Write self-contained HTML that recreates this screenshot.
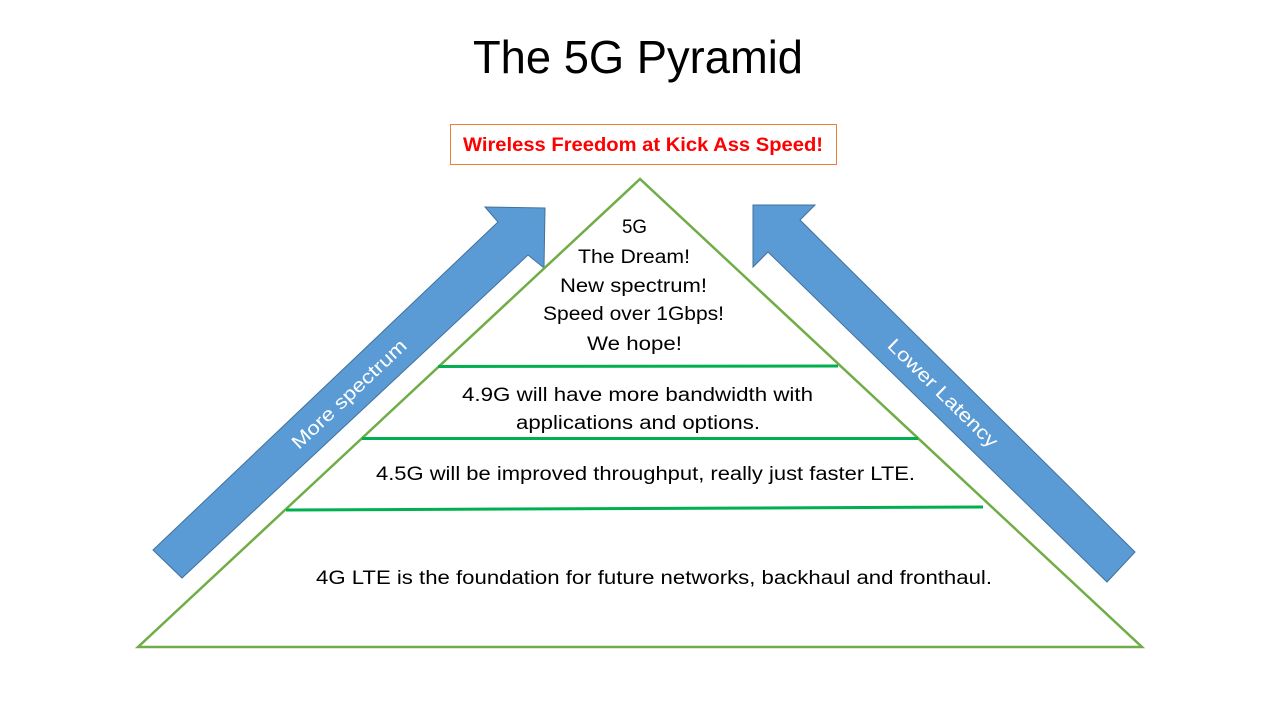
<!DOCTYPE html>
<html>
<head>
<meta charset="utf-8">
<style>
  html, body { margin: 0; padding: 0; background: #ffffff; }
  body { width: 1280px; height: 720px; overflow: hidden; }
  svg { display: block; }
  text { font-family: "Liberation Sans", Arial, sans-serif; }
</style>
</head>
<body>
<svg width="1280" height="720" viewBox="0 0 1280 720" xmlns="http://www.w3.org/2000/svg">
  <rect x="0" y="0" width="1280" height="720" fill="#ffffff"/>

  <!-- Title -->
  <text x="473" y="73" font-size="46" fill="#000" textLength="330" lengthAdjust="spacingAndGlyphs">The 5G Pyramid</text>

  <!-- Red banner -->
  <rect x="450.5" y="124.5" width="386" height="40" fill="#ffffff" stroke="#ED7D31" stroke-width="1"/>
  <text x="463" y="151" font-size="19" font-weight="bold" fill="#FF0000" textLength="360" lengthAdjust="spacingAndGlyphs">Wireless Freedom at Kick Ass Speed!</text>

  <!-- Left arrow -->
  <polygon points="545,208 485,207 498,222 153,550 182,578 528,255 544,268" fill="#5B9BD5" stroke="#41719C" stroke-width="1" stroke-linejoin="miter"/>
  <!-- Right arrow -->
  <polygon points="753,205 815,205 800,220 1135,552 1107,582 768,252 753,267" fill="#5B9BD5" stroke="#41719C" stroke-width="1" stroke-linejoin="miter"/>

  <!-- Arrow labels -->
  <g transform="translate(349,394) rotate(-43.3)">
    <text x="0" y="6.5" font-size="19" fill="#ffffff" text-anchor="middle" textLength="150" lengthAdjust="spacingAndGlyphs">More spectrum</text>
  </g>
  <g transform="translate(943,393) rotate(44.5)">
    <text x="0" y="6.5" font-size="19" fill="#ffffff" text-anchor="middle" textLength="146" lengthAdjust="spacingAndGlyphs">Lower Latency</text>
  </g>

  <!-- Pyramid -->
  <polygon points="640,179 138,647 1142,647" fill="none" stroke="#70AD47" stroke-width="2.5" stroke-linejoin="miter"/>

  <!-- Tier lines -->
  <line x1="438" y1="366.5" x2="838" y2="366" stroke="#00B050" stroke-width="3"/>
  <line x1="362" y1="438.5" x2="918" y2="438.5" stroke="#00B050" stroke-width="3"/>
  <line x1="286" y1="510" x2="983" y2="507" stroke="#00B050" stroke-width="3"/>

  <!-- 5G tier text -->
  <text x="622" y="233" font-size="19" fill="#000" textLength="25" lengthAdjust="spacingAndGlyphs">5G</text>
  <text x="578" y="263" font-size="19" fill="#000" textLength="112" lengthAdjust="spacingAndGlyphs">The Dream!</text>
  <text x="560" y="292" font-size="19" fill="#000" textLength="147" lengthAdjust="spacingAndGlyphs">New spectrum!</text>
  <text x="543" y="320" font-size="19" fill="#000" textLength="181" lengthAdjust="spacingAndGlyphs">Speed over 1Gbps!</text>
  <text x="587" y="350" font-size="19" fill="#000" textLength="95" lengthAdjust="spacingAndGlyphs">We hope!</text>

  <!-- 4.9G tier -->
  <text x="462" y="401" font-size="19" fill="#000" textLength="351" lengthAdjust="spacingAndGlyphs">4.9G will have more bandwidth with</text>
  <text x="516" y="429" font-size="19" fill="#000" textLength="244" lengthAdjust="spacingAndGlyphs">applications and options.</text>

  <!-- 4.5G tier -->
  <text x="376" y="480" font-size="19" fill="#000" textLength="539" lengthAdjust="spacingAndGlyphs">4.5G will be improved throughput, really just faster LTE.</text>

  <!-- 4G tier -->
  <text x="316" y="584" font-size="19" fill="#000" textLength="676" lengthAdjust="spacingAndGlyphs">4G LTE is the foundation for future networks, backhaul and fronthaul.</text>
</svg>
</body>
</html>
